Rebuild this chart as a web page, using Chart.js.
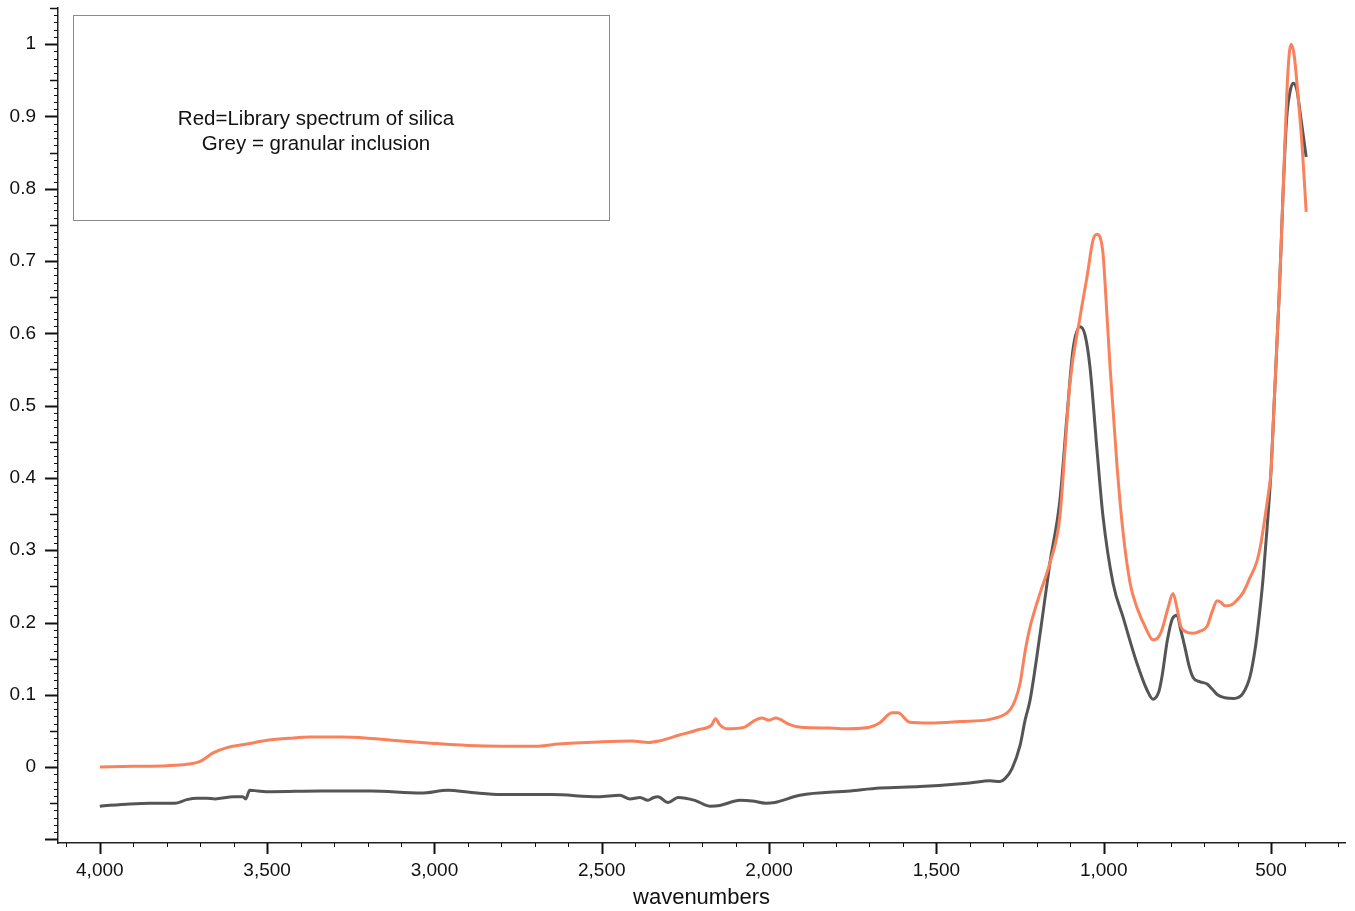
<!DOCTYPE html>
<html>
<head>
<meta charset="utf-8">
<script src="https://cdn.jsdelivr.net/npm/chart.js@4"></script>
<style>
html,body{margin:0;padding:0;background:#fff;}
#wrap{width:1355px;height:911px;position:relative;}
</style>
</head>
<body>
<div id="wrap"><canvas id="c"></canvas></div>
<script>
// ---- Data ----
const redWavenumbers = [4000,3900,3800,3740,3700,3660,3620,3560,3500,3430,3370,3280,3200,3100,3010,2900,2800,2690,2630,2500,2410,2360,2330,2270,2210,2172,2160,2148,2125,2075,2045,2022,2000,1980,1940,1905,1820,1760,1700,1670,1632,1615,1580,1520,1430,1340,1295,1280,1265,1250,1235,1220,1190,1161,1131,1116,1101,1071,1050,1032,1020,1011,1002,996,981,960,942,921,901,871,853,840,826,808,793,781,770,757,733,712,691,676,661,650,638,620,600,584,563,542,530,518,509,500,491,482,476,470,464,458,452,446,440,431,419,407,395];
const redAbsorbance = [0.000,0.001,0.002,0.004,0.008,0.020,0.027,0.032,0.037,0.040,0.0415,0.0415,0.040,0.036,0.033,0.030,0.029,0.029,0.032,0.035,0.036,0.034,0.036,0.044,0.052,0.058,0.067,0.059,0.053,0.055,0.064,0.068,0.065,0.068,0.059,0.055,0.054,0.053,0.055,0.061,0.075,0.075,0.062,0.061,0.063,0.066,0.073,0.079,0.092,0.116,0.160,0.194,0.241,0.282,0.346,0.438,0.531,0.622,0.678,0.729,0.737,0.733,0.710,0.669,0.553,0.415,0.324,0.254,0.221,0.189,0.176,0.178,0.190,0.220,0.240,0.220,0.195,0.188,0.185,0.188,0.195,0.215,0.230,0.228,0.223,0.224,0.232,0.241,0.262,0.285,0.310,0.346,0.375,0.410,0.500,0.590,0.650,0.720,0.795,0.870,0.940,0.985,1.000,0.985,0.927,0.858,0.768];

const greyWavenumbers = [4000,3910,3850,3776,3740,3710,3680,3656,3600,3573,3564,3552,3528,3490,3340,3190,3040,2960,2890,2800,2650,2510,2446,2416,2386,2362,2345,2332,2302,2272,2222,2177,2147,2087,2050,2010,1983,1908,1758,1669,1549,1400,1340,1310,1295,1274,1250,1235,1220,1190,1161,1131,1110,1092,1071,1056,1041,1020,1002,972,942,901,871,853,835,826,810,795,781,770,757,745,733,712,691,676,660,638,611,584,563,547,535,524,512,500,491,482,476,470,464,458,452,443,434,428,422,413,395];
const greyAbsorbance = [-0.054,-0.051,-0.050,-0.050,-0.045,-0.043,-0.043,-0.044,-0.041,-0.041,-0.044,-0.032,-0.033,-0.034,-0.033,-0.033,-0.036,-0.032,-0.035,-0.038,-0.038,-0.041,-0.039,-0.044,-0.042,-0.046,-0.042,-0.041,-0.049,-0.042,-0.046,-0.054,-0.053,-0.046,-0.047,-0.050,-0.049,-0.039,-0.033,-0.029,-0.027,-0.022,-0.019,-0.020,-0.016,-0.002,0.030,0.065,0.093,0.185,0.282,0.369,0.484,0.577,0.609,0.598,0.553,0.438,0.346,0.254,0.207,0.144,0.107,0.094,0.105,0.125,0.175,0.205,0.210,0.190,0.165,0.140,0.124,0.118,0.115,0.108,0.100,0.096,0.095,0.102,0.125,0.165,0.210,0.260,0.330,0.410,0.500,0.590,0.650,0.720,0.795,0.860,0.905,0.935,0.946,0.944,0.935,0.905,0.844];

const xTickLabels = [4000,3500,3000,2500,2000,1500,1000,500];
const yTickLabels = [0,0.1,0.2,0.3,0.4,0.5,0.6,0.7,0.8,0.9,1];
const noteLines = ['Red=Library spectrum of silica','Grey = granular inclusion'];
const xTitle = 'wavenumbers';

const FONT = '"Liberation Sans", Arial, Helvetica, sans-serif';

const toPoints = (xs, ys) => xs.map((x, i) => ({x: x, y: ys[i]}));

const tickPlugin = {
  id: 'axisTicks',
  afterDraw(chart) {
    const ctx = chart.ctx;
    const xs = chart.scales.x, ys = chart.scales.y;
    const area = chart.chartArea;
    ctx.save();
    ctx.strokeStyle = '#111';
    for (let i = -10; i <= 105; i++) {
      const v = i / 100;
      const py = Math.round(ys.getPixelForValue(v)) + 0.5;
      if (py < area.top - 0.5 || py > area.bottom + 0.5) continue;
      let len, w;
      if (i % 10 === 0) { len = 13; w = 2; }
      else if (i % 5 === 0) { len = 8; w = 1.5; }
      else { len = 4; w = 1; }
      ctx.lineWidth = w;
      ctx.beginPath();
      ctx.moveTo(area.left - len, py);
      ctx.lineTo(area.left, py);
      ctx.stroke();
    }
    for (let v = 300; v <= 4100; v += 100) {
      const px = Math.round(xs.getPixelForValue(v)) + 0.5;
      if (px < area.left || px > area.right) continue;
      const major = v % 500 === 0;
      ctx.lineWidth = major ? 2 : 1;
      ctx.beginPath();
      ctx.moveTo(px, area.bottom);
      ctx.lineTo(px, area.bottom + (major ? 11 : 4));
      ctx.stroke();
    }
    ctx.lineWidth = 1;
    ctx.strokeStyle = '#8a8a8a';
    ctx.strokeRect(73.5, 15.5, 536, 205);
    ctx.fillStyle = '#111';
    ctx.font = '20.5px ' + FONT;
    ctx.textAlign = 'center';
    ctx.textBaseline = 'middle';
    ctx.fillText(noteLines[0], 316, 119);
    ctx.fillText(noteLines[1], 316, 144);
    ctx.restore();
  }
};

new Chart(document.getElementById('c'), {
  type: 'line',
  data: {
    datasets: [
      {
        label: 'Library spectrum of silica',
        data: toPoints(redWavenumbers, redAbsorbance),
        borderColor: '#f9825c',
        borderWidth: 3,
        pointRadius: 0,
        cubicInterpolationMode: 'monotone',
        fill: false
      },
      {
        label: 'Granular inclusion',
        data: toPoints(greyWavenumbers, greyAbsorbance),
        borderColor: '#555555',
        borderWidth: 3,
        pointRadius: 0,
        cubicInterpolationMode: 'monotone',
        fill: false
      }
    ]
  },
  options: {
    responsive: true,
    maintainAspectRatio: false,
    animation: false,
    events: [],
    layout: { padding: { top: 8, right: 10, left: 0, bottom: 0 } },
    plugins: {
      legend: { display: false },
      tooltip: { enabled: false },
      title: { display: false }
    },
    scales: {
      x: {
        type: 'linear',
        reverse: true,
        min: 279,
        max: 4125,
        afterBuildTicks: (s) => { s.ticks = xTickLabels.map(v => ({value: v})); },
        afterFit: (s) => { s.height = 68; s.paddingLeft = 0; s.paddingRight = 0; },
        ticks: {
          autoSkip: false,
          maxRotation: 0,
          padding: 16,
          color: '#111',
          font: { family: FONT, size: 19 },
          callback: (v) => Number(v).toLocaleString('en-US')
        },
        grid: { display: false, drawTicks: false },
        border: { display: true, color: '#222', width: 1.5 },
        title: {
          display: true,
          text: xTitle,
          color: '#111',
          font: { family: FONT, size: 22 },
          padding: { top: 0, bottom: 0 }
        }
      },
      y: {
        type: 'linear',
        min: -0.105,
        max: 1.05,
        afterBuildTicks: (s) => { s.ticks = yTickLabels.map(v => ({value: v})); },
        afterFit: (s) => { s.width = 58; s.paddingTop = 0; s.paddingBottom = 0; },
        ticks: {
          autoSkip: false,
          padding: 22,
          color: '#111',
          font: { family: FONT, size: 19 },
          callback: (v) => (v === 0 ? '0' : (Math.abs(v - 1) < 1e-9 ? '1' : Number(v).toFixed(1)))
        },
        grid: { display: false, drawTicks: false },
        border: { display: true, color: '#222', width: 1.5 }
      }
    }
  },
  plugins: [tickPlugin]
});
</script>
</body>
</html>
